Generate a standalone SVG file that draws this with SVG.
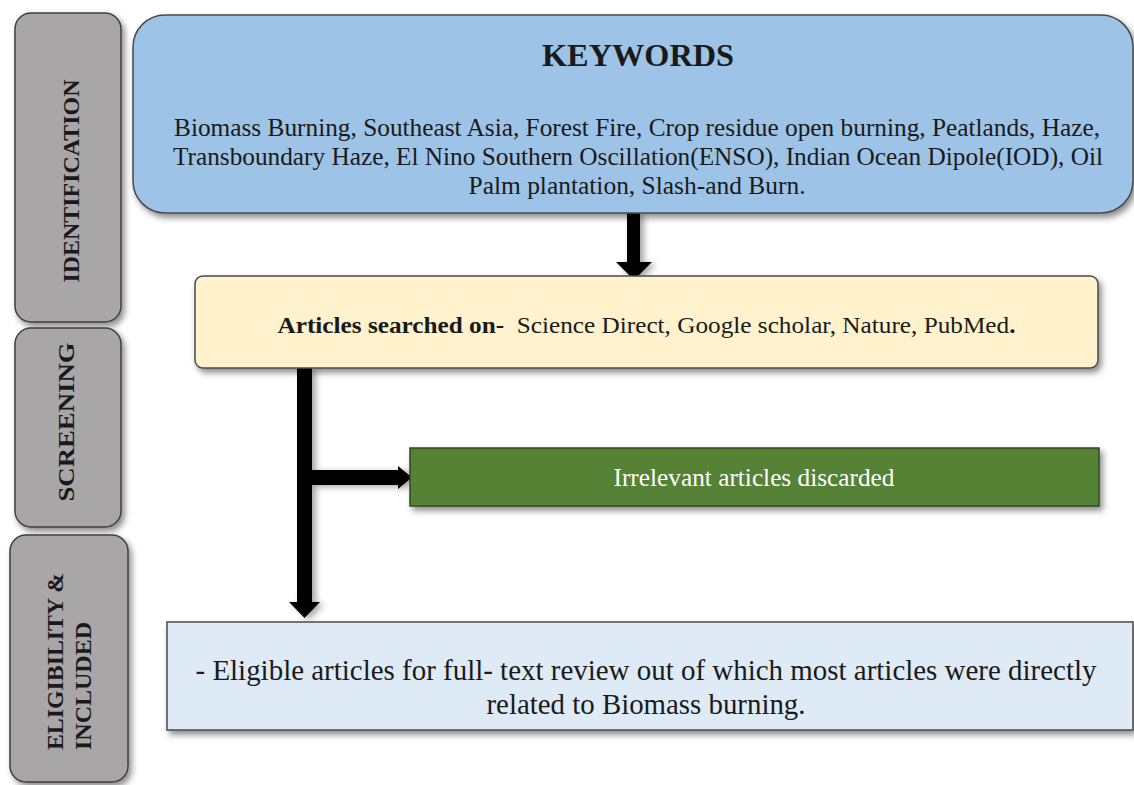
<svg xmlns="http://www.w3.org/2000/svg" width="1134" height="785" viewBox="0 0 1134 785">
  <style>
    .side { fill: #a8a6a6; stroke: #3f3f3f; stroke-width: 1.5; }
    .box { stroke: #4a4a4a; stroke-width: 1.5; }
    .t { font-family: "Liberation Serif", "Times New Roman", serif; fill: #1a1a1a; }
    .b { font-weight: bold; }
    .side-t { font-family: "Liberation Serif", "Times New Roman", serif; font-weight: bold; font-size: 23px; fill: #1a1a1a; }
    .arrow { fill: #000; }
  </style>
  <defs>
    <filter id="sh" x="-10%" y="-10%" width="125%" height="130%">
      <feDropShadow dx="3" dy="4" stdDeviation="3" flood-color="#000" flood-opacity="0.45"/>
    </filter>
    <filter id="ash" x="-50%" y="-10%" width="200%" height="130%">
      <feDropShadow dx="4" dy="2" stdDeviation="3" flood-color="#000" flood-opacity="0.35"/>
    </filter>
  </defs>

  <g id="stage-identification">
    <rect class="side" x="15" y="13" width="106" height="309" rx="16" filter="url(#sh)"/>
    <text class="side-t" text-anchor="middle" transform="translate(79,181) rotate(-90)" textLength="203" lengthAdjust="spacingAndGlyphs">IDENTIFICATION</text>
  </g>
  <g id="stage-screening">
    <rect class="side" x="15" y="328" width="106" height="199" rx="16" filter="url(#sh)"/>
    <text class="side-t" text-anchor="middle" transform="translate(74,422) rotate(-90)" textLength="159" lengthAdjust="spacingAndGlyphs">SCREENING</text>
  </g>
  <g id="stage-eligibility">
    <rect class="side" x="10" y="535" width="118" height="247" rx="16" filter="url(#sh)"/>
    <text class="side-t" transform="translate(63,750) rotate(-90)" textLength="177" lengthAdjust="spacingAndGlyphs">ELIGIBILITY &amp;</text>
    <text class="side-t" transform="translate(91,750) rotate(-90)" textLength="128" lengthAdjust="spacingAndGlyphs">INCLUDED</text>
  </g>

  <g id="connectors">
    <g filter="url(#ash)">
      <path class="arrow" d="M627,213 H640 V262 H652 L634,280 L616,262 H627 Z"/>
      <path class="arrow" d="M297,368 H312 V470 H398 V466 L412,477.5 L398,489 V485 H312 V602 H320 L304.5,618 L289,602 H297 Z"/>
    </g>
  </g>

  <g id="keywords">
    <rect class="box" x="133" y="15" width="1000" height="198" rx="32" fill="#9dc3e6" filter="url(#sh)"/>
    <text class="t b" x="638" y="66" font-size="32" text-anchor="middle" textLength="192" lengthAdjust="spacingAndGlyphs">KEYWORDS</text>
    <text class="t" x="637" y="136" font-size="26" text-anchor="middle" textLength="926" lengthAdjust="spacingAndGlyphs">Biomass Burning, Southeast Asia, Forest Fire, Crop residue open burning, Peatlands, Haze,</text>
    <text class="t" x="638" y="165" font-size="26" text-anchor="middle" textLength="930" lengthAdjust="spacingAndGlyphs">Transboundary Haze, El Nino Southern Oscillation(ENSO), Indian Ocean Dipole(IOD), Oil</text>
    <text class="t" x="637" y="194" font-size="26" text-anchor="middle" textLength="337" lengthAdjust="spacingAndGlyphs">Palm plantation, Slash-and Burn.</text>
  </g>

  <g id="articles">
    <rect class="box" x="195" y="276" width="903" height="92" rx="8" fill="#fff2cc" filter="url(#sh)"/>
    <text class="t" x="646.5" y="333" font-size="23" text-anchor="middle" textLength="738" lengthAdjust="spacingAndGlyphs" xml:space="preserve"><tspan class="b">Articles searched on-</tspan>  Science Direct, Google scholar, Nature, PubMed<tspan class="b">.</tspan></text>
  </g>

  <g id="discarded">
    <rect x="410" y="448" width="689" height="58" fill="#548235" stroke="#2e4a1c" stroke-width="1.5" filter="url(#sh)"/>
    <text class="t" x="754" y="486" font-size="25" text-anchor="middle" textLength="281" lengthAdjust="spacingAndGlyphs" style="fill:#ffffff">Irrelevant articles discarded</text>
  </g>

  <g id="eligible">
    <rect class="box" x="167" y="622" width="966" height="108" fill="#deebf7" filter="url(#sh)"/>
    <text class="t" x="646" y="680" font-size="28.5" text-anchor="middle" textLength="901" lengthAdjust="spacingAndGlyphs">- Eligible articles for full- text review out of which most articles were directly</text>
    <text class="t" x="646" y="714" font-size="28.5" text-anchor="middle" textLength="319" lengthAdjust="spacingAndGlyphs">related to Biomass burning.</text>
  </g>
</svg>
